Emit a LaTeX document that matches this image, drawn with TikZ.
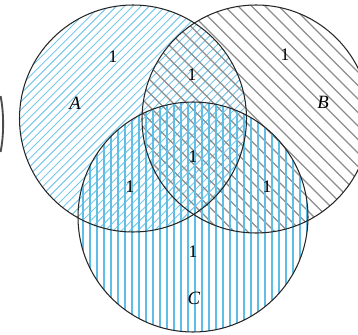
\documentclass[tikz,border=0pt]{standalone}
\usepackage{fontspec}
\setmainfont{Liberation Serif}
\definecolor{hatchcyan}{RGB}{95,190,230}
\begin{document}
\begin{tikzpicture}[
  x=0.03cm, y=-0.03cm,
  ring/.style={draw=black!85, line width=0.9pt},
  hatchA/.style={draw=hatchcyan!85, line width=0.8pt},
  hatchB/.style={draw=black!45, line width=1pt},
  hatchC/.style={draw=hatchcyan, line width=1pt},
  num/.style={font=\fontsize{15}{17}\selectfont},
  setname/.style={font=\fontsize{16}{18}\selectfont\itshape}
]
\useasboundingbox (0,0) rectangle (358,335);
\coordinate (cA) at (133,118.5);
\coordinate (cB) at (256,119);
\coordinate (cC) at (193,217);

% hatching
\begin{scope}
  \clip (cA) circle[radius=113.5];
  \foreach \i in {-360,-351.8,...,360}
    \draw[hatchA] (\i,335) -- ++(335,-335);
\end{scope}
\begin{scope}
  \clip (cB) circle[radius=114];
  \foreach \i in {0,13.5,...,720}
    \draw[hatchB] (\i,335) -- ++(-335,-335);
\end{scope}
\begin{scope}
  \clip (cC) circle[radius=115];
  \foreach \i in {76,83,...,315}
    \draw[hatchC] (\i,100) -- (\i,335);
\end{scope}

% outlines
\draw[ring] (cA) circle[radius=113.5];
\draw[ring] (cB) circle[radius=114];
\draw[ring] (cC) circle[radius=115];
\draw[black!70, line width=1.6pt] (0.5,96) .. controls (4,112) and (4,136) .. (0.5,152);

% labels
\node[num] (a1)  at (113,57)  {1};
\node[setname] (la) at (75,103) {A};
\node[num] (ab1) at (192,75)  {1};
\node[num] (b1)  at (285,55)  {1};
\node[setname] (lb) at (323,102) {B};
\node[num] (abc1) at (193,157) {1};
\node[num] (ac1) at (130,187) {1};
\node[num] (bc1) at (267,187) {1};
\node[num] (c1)  at (193,252) {1};
\node[setname] (lc) at (194,298) {C};
\end{tikzpicture}
\end{document}
